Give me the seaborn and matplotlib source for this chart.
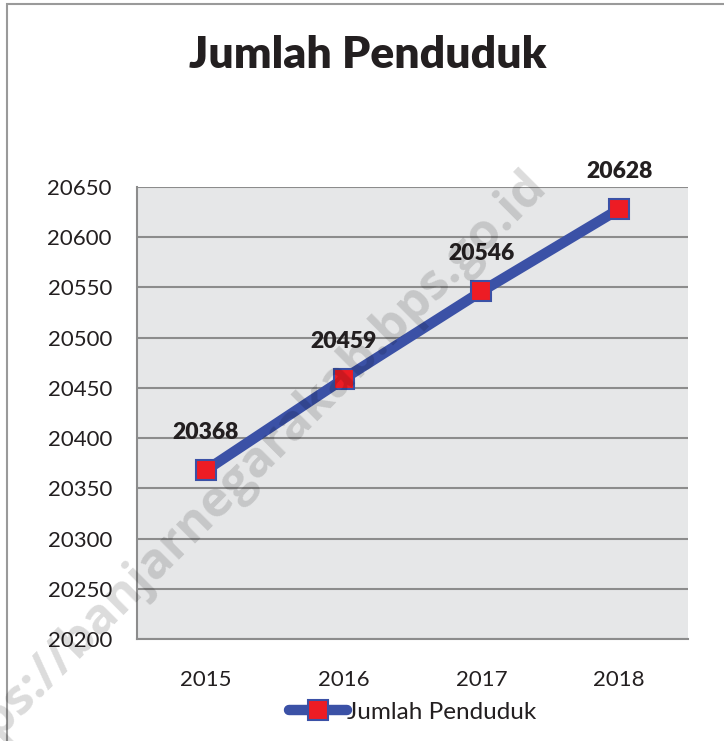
import pandas as pd
import seaborn as sns
import matplotlib.pyplot as plt
from matplotlib.patches import Rectangle
from matplotlib.ticker import FixedLocator

# data
years = ["2015", "2016", "2017", "2018"]
penduduk = [20368, 20459, 20546, 20628]
y_ticks = [20200, 20250, 20300, 20350, 20400, 20450, 20500, 20550, 20600, 20650]

df = pd.DataFrame({"Tahun": years, "Jumlah Penduduk": penduduk})

sns.set_style("white")
plt.rcParams["font.family"] = ["Lato", "DejaVu Sans"]

fig = plt.figure(figsize=(7.24, 7.41), dpi=100)
ax = fig.add_axes([137 / 724, 102 / 741, 551 / 724, 452 / 741])
ax.set_facecolor("#e6e7e8")

sns.lineplot(data=df, x="Tahun", y="Jumlah Penduduk", ax=ax,
             color="#3b51a6", linewidth=7.5, marker="s", markersize=15,
             markerfacecolor="#ed1c24", markeredgecolor="#3b51a6",
             markeredgewidth=1.5, label="Jumlah Penduduk")
ax.lines[0].set_solid_capstyle("round")

ax.set_xlim(-0.5, 3.5)
ax.set_ylim(20200, 20650)
ax.set_yticks(y_ticks)
ax.set_yticklabels([str(v) for v in y_ticks])
ax.grid(axis="y", color="#8c8c8c", linewidth=1.5)
ax.set_axisbelow(True)
ax.set_xlabel("")
ax.set_ylabel("")

ax.xaxis.set_minor_locator(FixedLocator([0.5, 1.5, 2.5, 3.5]))
ax.tick_params(axis="x", which="major", length=0, pad=22, labelsize=16, labelcolor="#231f20")
ax.tick_params(axis="x", which="minor", length=12, width=1.3, color="#8c8c8c", direction="inout")
ax.tick_params(axis="y", length=0, pad=18, labelsize=16, labelcolor="#231f20")

for s in ["top", "right"]:
    ax.spines[s].set_visible(False)
for s in ["left", "bottom"]:
    ax.spines[s].set_color("#8c8c8c")
    ax.spines[s].set_linewidth(1.5)

for i, v in enumerate(penduduk):
    ax.annotate(str(v), (i, v), xytext=(0, 27), textcoords="offset points",
                ha="center", va="center", fontsize=16.5, fontweight="heavy",
                color="#231f20")

leg = ax.legend(loc="upper center", bbox_to_anchor=(0.5, -0.09), frameon=False,
                fontsize=17.5, handlelength=2.4, handletextpad=0.0,
                labelcolor="#231f20")
for h in leg.legend_handles:
    h.set_solid_capstyle("round")

fig.suptitle("Jumlah Penduduk", x=368 / 724, y=1 - 55 / 741, va="center",
             fontsize=32, fontweight="heavy", color="#231f20")

# outer border
fig.patches.append(Rectangle((7 / 724, -0.1), 1.2, 1.1 - 4 / 741,
                             transform=fig.transFigure, fill=False,
                             edgecolor="#9a9a9a", linewidth=1.5))

# watermark
fig.text(538 / 724, 1 - 178 / 741, "https://banjarnegarakab.bps.go.id",
         rotation=45, rotation_mode="anchor", ha="right", va="center",
         fontsize=36, fontweight="bold", family="Open Sans",
         color="black", alpha=0.14)

fig.savefig("out.png", dpi=100)
